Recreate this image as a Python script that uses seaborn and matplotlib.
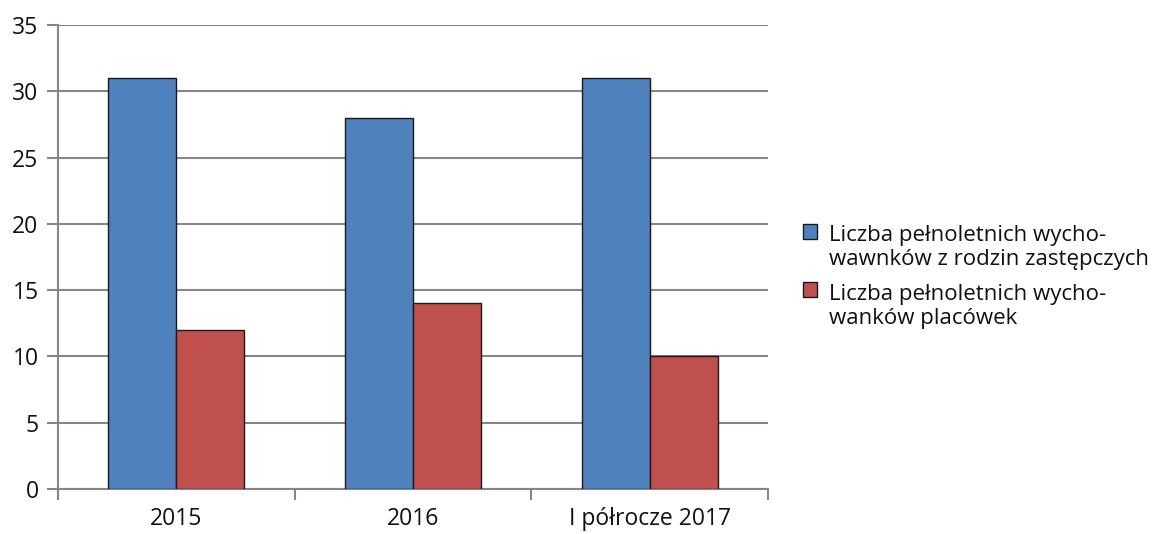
import matplotlib
matplotlib.use("Agg")
import matplotlib.pyplot as plt
import seaborn as sns
import pandas as pd
import numpy as np

categories = ["2015", "2016", "I półrocze 2017"]
series_names = ["Liczba pełnoletnich wycho-\nwawnków z rodzin zastępczych",
                "Liczba pełnoletnich wycho-\nwanków placówek"]
rodziny = [31, 28, 31]
placowki = [12, 14, 10]
y_ticks = [0, 5, 10, 15, 20, 25, 30, 35]
colors = ["#4F81BD", "#C0504D"]

df = pd.DataFrame({
    "cat": categories * 2,
    "series": [series_names[0]] * 3 + [series_names[1]] * 3,
    "value": rodziny + placowki,
})

sns.set_theme(style="white")
plt.rcParams["font.family"] = ["Open Sans", "DejaVu Sans"]

fig = plt.figure(figsize=(11.63, 5.34), dpi=100)
ax = fig.add_axes([58 / 1163, 1 - 489 / 534, (768 - 58) / 1163, (489 - 25) / 534])

sns.barplot(data=df, x="cat", y="value", hue="series", palette=colors,
            width=0.574, ax=ax, edgecolor="#1a1a1a", linewidth=1.0,
            saturation=1, zorder=3)

fs = 16.5
lfs = 16
ax.set_ylim(0, 35)
ax.set_xlim(-0.5, 2.5)
ax.set_yticks(y_ticks)
ax.set_yticklabels([str(v) for v in y_ticks], fontsize=fs, color="#111111")
ax.set_xticks(range(len(categories)))
ax.set_xticklabels(categories, fontsize=fs, color="#111111")
ax.set_xticks([-0.5, 0.5, 1.5, 2.5], minor=True)
ax.tick_params(axis="x", which="major", length=0, pad=13)
ax.tick_params(axis="x", which="minor", length=8, width=1.5, color="#868686", direction="out", bottom=True)
ax.tick_params(axis="y", which="major", length=8, width=1.5, color="#868686", direction="out", left=True, pad=6)
ax.set_xlabel("")
ax.set_ylabel("")
ax.yaxis.grid(True, color="#868686", linewidth=1.5, zorder=0)
ax.set_axisbelow(True)
for s in ["top", "right"]:
    ax.spines[s].set_visible(False)
for s in ["left", "bottom"]:
    ax.spines[s].set_color("#868686")
    ax.spines[s].set_linewidth(1.5)

leg = ax.legend(loc="center left", bbox_to_anchor=(803 / 1163, 1 - 277 / 534),
                bbox_transform=fig.transFigure, frameon=False, fontsize=lfs,
                handlelength=0.65, handleheight=0.65, handletextpad=0.5,
                labelspacing=0.6, borderaxespad=0, borderpad=0)
for t in leg.get_texts():
    t.set_color("#111111")
for h in leg.legend_handles:
    h.set_y(h.get_y() + 0.75 * lfs)

fig.savefig("out.png", dpi=100)
